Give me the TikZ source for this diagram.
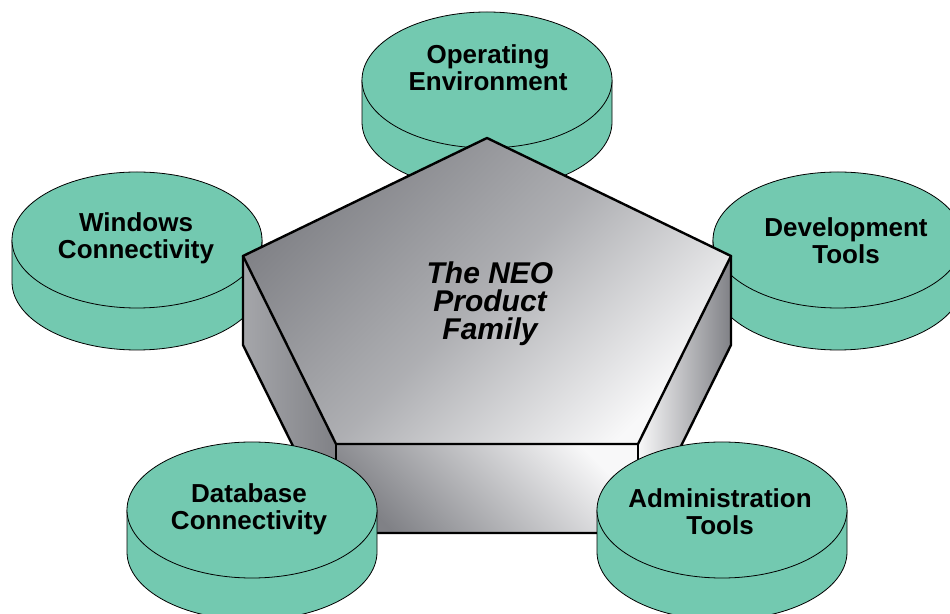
\documentclass[tikz,border=0pt]{standalone}
\usepackage{fontspec}
\setmainfont{Liberation Sans}
\definecolor{diskgreen}{RGB}{115,201,176}
\definecolor{prismdark}{RGB}{128,129,134}
\definecolor{prismmid}{RGB}{165,166,170}
\definecolor{prismlight}{RGB}{248,248,249}
\tikzset{
  diskline/.style={
    draw=black, line width=0.8pt, fill=diskgreen
  },
  disk/.pic={
    \path[diskline] (-125,0) -- (-125,-42) arc[start angle=180, end angle=360, x radius=125, y radius=68] -- (125,0) -- cycle;
    \path[diskline] (0,0) ellipse[x radius=125, y radius=68];
  },
  disklabel/.style={
    align=center, inner sep=0pt,
    font=\fontsize{26}{27}\selectfont\bfseries
  },
  titlelabel/.style={
    align=center, inner sep=0pt,
    font=\fontsize{30}{28}\selectfont\bfseries\itshape
  },
  prismedge/.style={
    draw=black, line width=2.4pt, line join=round
  }
}

\begin{document}
\begin{tikzpicture}[x=1pt, y=1pt]
  \useasboundingbox (0,0) rectangle (950,613);
  \clip (0,0) rectangle (950,613);

  % disks behind the prism
  \pic at (487,533) {disk};
  \pic at (137,373) {disk};
  \pic at (838,373) {disk};

  % prism corners
  \coordinate (t) at (487,475);
  \coordinate (ur) at (731,357);
  \coordinate (ul) at (243,357);
  \coordinate (ll) at (336,169);
  \coordinate (lr) at (638,169);
  \coordinate (ulb) at (243,268);
  \coordinate (llb) at (336,80);
  \coordinate (lrb) at (638,80);
  \coordinate (urb) at (731,268);

  \shade[left color=prismmid, right color=prismdark] (ul) -- (ll) -- (llb) -- (ulb) -- cycle;
  \shade[top color=prismlight, bottom color=prismdark, shading angle=-45] (ll) -- (lr) -- (lrb) -- (llb) -- cycle;
  \shade[left color=prismlight, right color=prismdark] (lr) -- (ur) -- (urb) -- (lrb) -- cycle;
  \shade[top color=prismdark, bottom color=prismlight, middle color=prismmid!90!white, shading angle=45] (t) -- (ur) -- (lr) -- (ll) -- (ul) -- cycle;

  \draw[prismedge] (t) -- (ur) -- (lr) -- (ll) -- (ul) -- cycle;
  \draw[prismedge] (ul) -- (ulb) -- (llb) -- (lrb) -- (urb) -- (ur);
  \draw[prismedge] (ll) -- (llb);
  \draw[prismedge] (lr) -- (lrb);

  \node[titlelabel] (family) at (490,309) {The NEO\\Product\\Family};

  % disks in front of the prism
  \pic at (252,103) {disk};
  \pic at (722,103) {disk};

  \node[disklabel] (operating) at (488,545) {Operating\\Environment};
  \node[disklabel] (windows) at (136,375) {Windows\\Connectivity};
  \node[disklabel] (development) at (846,372) {Development\\Tools};
  \node[disklabel] (database) at (249,104) {Database\\Connectivity};
  \node[disklabel] (administration) at (720,101) {Administration\\Tools};
\end{tikzpicture}
\end{document}
